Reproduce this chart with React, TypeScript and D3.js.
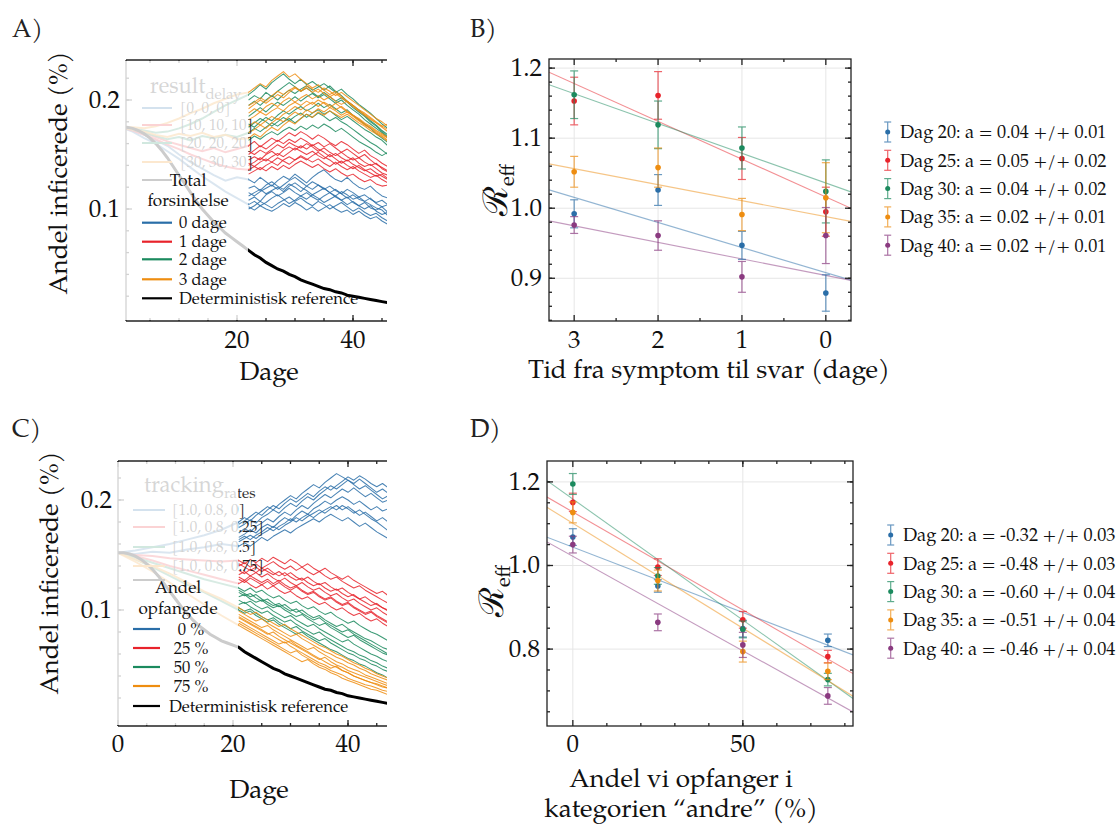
import React from "react";
import * as d3 from "d3";

const FONT = "'TeX Gyre Pagella', monospace";

// ---------------- Panel A data (values ×1000, unit %) ----------------
const A_START_DAY = 22; // first plotted day of the visible trajectories
const aBlue = [
  [127,124,129,125,121,126,130,127,132,128,124,129,133,136,131,127,125,129,124,120,118,121,116,112,110],
  [119,121,117,122,125,121,118,123,120,116,121,125,122,118,121,117,114,118,115,111,113,109,106,108,104],
  [112,115,118,114,117,120,116,121,124,120,117,113,116,119,115,118,114,110,113,109,107,110,105,102,104],
  [108,111,107,113,116,112,115,119,115,112,115,111,108,112,115,111,108,111,106,103,106,101,99,102,97],
  [104,107,103,106,110,113,109,105,108,112,109,113,110,106,109,112,108,104,107,103,100,103,98,95,97],
  [100,103,107,104,101,105,108,111,107,110,106,103,107,104,100,103,106,102,98,101,97,94,96,92,89],
  [115,112,116,119,122,118,122,126,129,125,121,118,122,119,115,112,116,113,109,111,107,104,101,99,94],
  [102,99,103,100,98,101,105,102,106,103,99,102,98,101,104,100,97,99,95,98,94,91,93,89,86],
];
const aRed = [
  [158,162,157,161,165,162,166,170,167,171,168,164,168,165,161,158,162,159,155,151,154,149,146,142,139],
  [150,154,158,155,159,163,160,164,161,165,162,158,161,157,160,156,152,155,151,147,150,145,141,138,135],
  [145,148,145,150,153,149,154,157,154,158,155,159,155,152,148,151,147,144,147,142,139,141,137,133,131],
  [140,143,147,144,148,151,148,152,156,153,150,153,149,146,150,146,142,145,141,138,135,137,133,130,127],
  [136,139,136,140,143,140,145,148,145,149,146,143,146,142,139,143,139,136,139,135,132,129,131,127,124],
  [132,135,138,135,139,136,140,137,141,144,141,138,141,137,134,137,133,130,132,128,125,127,123,121,122],
  [153,150,154,151,155,159,156,161,158,156,160,157,153,156,152,149,152,148,145,147,143,140,142,137,134],
  [142,139,143,146,143,147,144,141,145,148,145,149,152,148,145,141,144,140,137,140,136,133,130,132,128],
];
const aGreen = [
  [205,209,214,210,216,220,224,219,215,219,214,217,213,209,213,208,204,199,195,191,186,181,177,172,168],
  [195,199,195,200,204,200,205,209,206,210,213,209,212,215,211,207,210,205,201,196,192,188,183,178,174],
  [185,189,193,189,194,198,195,199,203,199,203,206,202,205,201,197,200,195,191,187,182,178,174,170,165],
  [178,175,180,184,181,186,190,187,191,194,190,193,197,193,196,192,188,191,186,182,178,174,169,165,161],
  [170,174,171,175,179,176,180,183,179,183,187,184,188,185,181,184,180,177,173,169,165,161,158,154,150],
  [163,167,164,168,171,168,172,175,172,176,173,177,174,178,175,171,174,170,166,162,159,156,152,149,152],
  [200,204,201,207,203,208,212,216,212,208,211,207,203,207,203,199,202,198,193,189,185,180,176,171,166],
  [175,179,183,180,176,180,184,181,185,188,184,188,191,187,190,186,182,185,181,177,173,170,166,163,158],
];
const aOrange = [
  [207,211,215,212,218,222,226,221,224,219,215,211,214,209,205,208,203,199,195,191,188,184,180,176,173],
  [195,198,202,199,204,208,205,209,212,208,211,207,210,206,203,206,202,198,194,190,187,183,179,176,178],
  [188,192,189,194,197,194,199,202,198,202,205,201,204,200,203,199,196,199,195,190,186,182,179,175,171],
  [182,185,189,186,190,193,190,195,198,195,199,196,200,197,193,197,193,189,186,182,178,175,171,168,165],
  [176,180,177,181,185,182,187,190,194,191,195,198,194,198,195,191,194,190,186,183,179,176,172,169,166],
  [170,173,177,174,179,183,180,185,189,186,191,188,192,189,193,190,186,189,185,181,177,174,170,167,163],
  [165,169,166,171,175,172,177,181,178,183,187,184,189,186,190,187,184,187,183,179,176,172,169,166,162],
  [192,196,200,197,201,205,202,207,211,208,213,210,207,211,208,204,207,203,199,195,191,187,183,180,176],
];
// early (faded) part, every 2 days from day 0 to day 22
const A_GHOST_STEP = 2;
const aGhost = [
  [175,172,168,163,158,150,143,137,131,126,129,127],
  [175,171,165,160,153,146,138,130,123,116,110,104],
  [175,173,170,166,162,159,156,153,156,152,155,158],
  [175,172,168,164,159,155,150,146,142,139,137,136],
  [175,174,172,170,171,174,178,183,189,195,200,205],
  [175,173,170,167,164,166,163,167,165,168,166,170],
  [175,175,174,176,179,183,188,192,197,201,205,207],
  [175,173,171,168,166,169,167,170,166,168,164,165],
];
const aDeterministic = [175,175,174,172,169,165,160,154,147,139,131,123,115,107,100,94,88,83,78,74,70,66,
  62,58,55,51,48,45,43,40,38,35,33,31,29,27,26,24,23,21,20,19,18,17,16,15,14];
const aGhostLegend = ["[0, 0, 0]", "[10, 10, 10]", "[20, 20, 20]", "[30, 30, 30]"];
const aLegendTitle = ["Total", "forsinkelse"];
const aLegendLabels = ["0 dage", "1 dage", "2 dage", "3 dage", "Deterministisk reference"];

// ---------------- Panel C data (values ×1000, unit %) ----------------
const C_START_DAY = 21;
const cBlue = [
  [180,184,181,186,190,194,191,196,200,204,201,206,210,214,211,216,220,224,221,218,215,219,215,211,207,210,206],
  [175,178,182,179,184,187,191,188,193,197,194,199,203,200,205,209,213,210,214,218,214,210,213,209,205,201,204],
  [170,174,171,176,179,183,180,185,189,186,191,195,192,197,201,205,202,206,210,207,211,207,203,206,202,198,200],
  [166,169,173,170,175,178,175,180,184,181,186,190,187,192,195,199,196,200,203,200,196,199,195,191,194,190,192],
  [162,165,168,165,169,172,176,173,177,180,184,181,185,188,191,188,192,195,191,194,190,186,189,185,181,184,180],
  [158,161,158,162,166,163,167,170,173,170,174,177,180,183,180,184,187,184,181,184,180,176,179,175,171,168,165],
  [178,181,185,189,186,191,195,192,197,201,198,202,206,203,208,212,209,213,217,221,218,222,219,215,212,215,211],
  [164,167,164,168,171,175,172,176,179,183,180,184,187,184,188,191,194,191,195,192,188,191,187,183,180,176,172],
];
const cRed = [
  [145,142,146,143,147,144,148,145,142,146,143,139,142,138,135,138,134,131,128,131,127,124,121,118,115,117,113],
  [140,143,139,142,138,141,144,140,137,140,136,139,135,132,135,131,128,130,126,123,120,122,118,115,112,109,106],
  [136,133,137,134,138,135,132,135,131,134,130,127,130,126,123,125,121,118,120,116,113,110,112,108,105,102,100],
  [132,135,131,134,130,133,129,126,129,125,122,125,121,118,120,116,113,115,111,108,110,106,103,100,102,98,95],
  [128,125,129,126,123,126,122,125,121,118,121,117,114,116,112,109,111,107,104,106,102,99,96,98,94,91,88],
  [124,127,123,120,123,119,122,118,115,117,113,110,112,108,105,107,103,100,102,98,95,97,93,90,92,88,85],
  [142,139,136,139,135,138,134,131,134,130,127,129,125,122,124,120,117,119,115,112,114,110,107,104,106,102,99],
  [130,127,131,128,125,128,124,127,123,120,122,118,115,117,113,110,112,108,105,107,103,100,97,99,95,92,89],
];
const cGreen = [
  [120,117,120,116,118,114,111,113,109,106,108,104,101,103,99,96,98,94,91,88,90,86,83,80,78,75,72],
  [116,113,115,111,108,110,106,103,105,101,98,100,96,93,95,91,88,85,87,83,80,77,74,72,69,66,64],
  [112,114,110,107,109,105,102,104,100,97,94,96,92,89,86,88,84,81,78,75,77,73,70,67,64,61,59],
  [109,106,108,104,101,103,99,96,93,95,91,88,85,87,83,80,77,74,71,73,69,66,63,60,58,55,53],
  [105,107,103,100,97,99,95,92,89,91,87,84,81,78,80,76,73,70,67,64,62,59,57,54,52,49,47],
  [102,99,101,97,94,91,93,89,86,83,85,81,78,75,72,74,70,67,64,61,59,56,54,51,49,46,44],
  [118,115,112,114,110,107,104,106,102,99,101,97,94,91,93,89,86,83,80,82,78,75,72,69,66,63,60],
  [100,97,99,95,92,89,91,87,84,81,78,80,76,73,70,67,64,62,59,56,54,51,49,46,43,41,38],
];
const cOrange = [
  [102,99,96,98,94,91,88,85,87,83,80,77,74,71,68,66,63,60,58,55,52,50,47,45,42,40,38],
  [99,96,93,90,92,88,85,82,79,76,78,74,71,68,65,62,60,57,55,52,50,47,45,42,40,38,36],
  [96,93,90,87,84,86,82,79,76,73,70,67,64,66,62,59,56,53,51,48,46,44,41,39,37,35,33],
  [93,90,87,84,81,78,80,76,73,70,67,64,61,58,55,57,53,50,48,45,43,41,39,37,35,33,31],
  [90,87,84,81,78,75,72,69,71,67,64,61,58,55,52,50,47,49,45,43,40,38,36,34,32,30,29],
  [88,85,82,79,76,73,70,67,64,61,63,59,56,53,50,48,45,43,41,38,36,34,32,31,29,27,26],
  [86,83,80,77,74,71,68,65,62,59,56,53,55,51,48,46,43,41,38,36,34,32,30,28,27,25,23],
  [94,91,88,85,82,79,76,73,70,72,68,65,62,59,56,53,50,48,45,43,40,38,36,34,33,31,29],
];
const C_GHOST_STEP = 3;
const cGhost = [
  [152,154,157,160,164,168,173,180],
  [152,151,153,152,155,157,160,158],
  [152,150,149,147,146,145,144,145],
  [152,149,145,140,136,132,128,124],
  [152,148,143,138,133,128,124,120],
  [152,146,139,131,123,116,108,100],
  [152,146,140,133,125,117,110,102],
  [152,144,135,125,115,105,95,86],
];
const cDeterministic = [152,152,151,149,146,142,137,131,124,117,110,103,97,91,86,82,78,75,72,70,68,
  66,62,59,56,53,50,47,45,42,40,38,36,34,32,30,28,27,25,24,22,21,20,19,18,17,16,15];
const cGhostLegend = ["[1.0, 0.8, 0]", "[1.0, 0.8, 0.25]", "[1.0, 0.8, 0.5]", "[1.0, 0.8, 0.75]"];
const cLegendTitle = ["Andel", "opfangede"];
const cLegendLabels = ["0 %", "25 %", "50 %", "75 %", "Deterministisk reference"];

// ---------------- Panel B data ----------------
const bDelays = [3, 2, 1, 0];
const dagLabels = ["Dag 20", "Dag 25", "Dag 30", "Dag 35", "Dag 40"];
const bReff = [
  [0.992, 1.026, 0.947, 0.879],
  [1.153, 1.161, 1.071, 0.995],
  [1.162, 1.119, 1.086, 1.024],
  [1.052, 1.058, 0.991, 1.015],
  [0.976, 0.961, 0.902, 0.961],
];
const bErr = [
  [0.020, 0.022, 0.020, 0.026],
  [0.034, 0.034, 0.030, 0.035],
  [0.034, 0.034, 0.030, 0.045],
  [0.022, 0.028, 0.023, 0.050],
  [0.012, 0.021, 0.022, 0.040],
];
const bFitSlope = [0.0358, 0.054, 0.0425, 0.0228, 0.0236];
const bFitIntercept = [0.908, 1.016, 1.036, 0.988, 0.904];
const bSlopeText = ["0.04", "0.05", "0.04", "0.02", "0.02"];
const bErrText = ["0.01", "0.02", "0.02", "0.01", "0.01"];

// ---------------- Panel D data ----------------
const dShares = [0, 25, 50, 75];
const dReff = [
  [1.068, 0.951, 0.849, 0.821],
  [1.151, 0.996, 0.870, 0.782],
  [1.195, 0.975, 0.847, 0.727],
  [1.127, 0.964, 0.794, 0.747],
  [1.050, 0.864, 0.810, 0.688],
];
const dErr = [
  [0.020, 0.015, 0.020, 0.015],
  [0.022, 0.020, 0.020, 0.015],
  [0.025, 0.020, 0.020, 0.015],
  [0.025, 0.025, 0.025, 0.020],
  [0.020, 0.020, 0.030, 0.020],
];
const dFitSlope = [-0.313, -0.469, -0.579, -0.502, -0.452]; // per fraction (x/100)
const dFitIntercept = [1.044, 1.128, 1.159, 1.101, 1.022];
const dSlopeText = ["-0.32", "-0.48", "-0.60", "-0.51", "-0.46"];
const dErrText = ["0.03", "0.03", "0.04", "0.04", "0.04"];

// ---------------- styles ----------------
const TRAJ_COLORS = ["#2a6ea8", "#e8232b", "#1b8a5e", "#ee8d10"];
const DAG_COLORS = ["#2a6ea8", "#e8232b", "#1b8a5e", "#ee8d10", "#8a3a80"];

type Box = { l: number; t: number; b: number; r: number };

type TrajCfg = {
  id: string;
  x: d3.ScaleLinear<number, number>;
  y: d3.ScaleLinear<number, number>;
  box: Box;
  fadeRight: number;
  start: number;
  groups: number[][][];
  ghost: number[][];
  ghostStep: number;
  det: number[];
  xMajor: number[];
  xMinor: number[];
  yMajor: number[];
  yMinor: number[];
  xTickBase: number;
  yTickRight: number;
  xLabel: { x: number; y: number };
  yLabel: { x: number; y: number };
  ghostTitle: [string, string];
  ghostTitlePos: { x: number; y: number };
  ghostLabels: string[];
  ghostRows: number[];
  ghostLineX: [number, number];
  ghostTextX: number;
  title: string[];
  titleX: number;
  titleBase: number[];
  labels: string[];
  rows: number[];
  lineX: [number, number];
  textX: number[];
  textAnchor: string[];
  letter: { text: string; x: number; y: number };
};

const T = (p: any) => <text {...p} style={{ fontFamily: FONT }} />;

function TrajPanel({ c }: { c: TrajCfg }) {
  const { x, y, box } = c;
  const line = (start: number, step: number) =>
    d3.line<number>().x((_, i) => x(start + i * step)).y((v) => y(v / 1000));
  const clip = `clip-${c.id}`;
  const fmtY = (v: number) => v.toFixed(1);
  const inX = (v: number) => x(v) >= box.l - 0.5 && x(v) <= box.r;
  return (
    <g>
      <defs>
        <clipPath id={clip}>
          <rect x={box.l} y={box.t} width={box.r - box.l} height={box.b - box.t} />
        </clipPath>
      </defs>
      <T x={c.letter.x} y={c.letter.y} fontSize={25} fill="#222">{c.letter.text}</T>
      <g clipPath={`url(#${clip})`}>
        {c.ghost.map((g, i) => (
          <path key={"g" + i} d={line(0, c.ghostStep)(g) || ""} fill="none"
            stroke={TRAJ_COLORS[Math.floor(i / 2)]} strokeWidth={2} opacity={0.85} />
        ))}
        {c.groups.map((grp, gi) =>
          grp.map((tr, ti) => (
            <path key={`t${gi}-${ti}`} d={line(c.start, 1)(tr) || ""} fill="none"
              stroke={TRAJ_COLORS[gi]} strokeWidth={1.05} opacity={0.85} strokeLinejoin="round" />
          ))
        )}
        <path d={line(0, 1)(c.det) || ""} fill="none" stroke="#000" strokeWidth={3} />
      </g>
      {/* original (faded) legend */}
      <T x={c.ghostTitlePos.x} y={c.ghostTitlePos.y} fontSize={22} fill="#333">
        {c.ghostTitle[0]}
        <tspan fontSize={15} dy={6}>{c.ghostTitle[1]}</tspan>
      </T>
      {c.ghostRows.map((ry, i) => (
        <line key={"gl" + i} x1={c.ghostLineX[0]} x2={c.ghostLineX[1]} y1={ry} y2={ry}
          stroke={i < 4 ? TRAJ_COLORS[i] : "#000"} strokeWidth={2} />
      ))}
      {c.ghostLabels.map((t, i) => (
        <T key={"gt" + i} x={c.ghostTextX} y={c.ghostRows[i] + 5} fontSize={15} fill="#222">{t}</T>
      ))}
      {/* axes */}
      <g stroke="#222" strokeWidth={1.3} fill="none">
        <line x1={box.l} x2={box.r} y1={box.t} y2={box.t} />
        <line x1={box.l} x2={box.r} y1={box.b} y2={box.b} />
        <line x1={box.l} x2={box.l} y1={box.t} y2={box.b} />
        {c.xMajor.filter(inX).map((v) => (
          <g key={"xm" + v}>
            <line x1={x(v)} x2={x(v)} y1={box.b} y2={box.b - 6} />
            <line x1={x(v)} x2={x(v)} y1={box.t} y2={box.t + 6} />
          </g>
        ))}
        {c.xMinor.filter((v) => x(v) > box.l && x(v) <= box.r).map((v) => (
          <g key={"xn" + v}>
            <line x1={x(v)} x2={x(v)} y1={box.b} y2={box.b - 3} />
            <line x1={x(v)} x2={x(v)} y1={box.t} y2={box.t + 3} />
          </g>
        ))}
        {c.yMajor.map((v) => (
          <line key={"ym" + v} x1={box.l} x2={box.l + 6} y1={y(v)} y2={y(v)} />
        ))}
        {c.yMinor.filter((v) => y(v) > box.t && y(v) < box.b).map((v) => (
          <line key={"yn" + v} x1={box.l} x2={box.l + 3} y1={y(v)} y2={y(v)} />
        ))}
      </g>
      {/* white veil over the early part */}
      <rect x={box.l - 1.5} y={box.t + 1} width={c.fadeRight - box.l + 1.5} height={box.b - box.t - 2}
        fill="#fff" opacity={0.8} />
      {/* tick labels */}
      {c.xMajor.filter(inX).map((v) => (
        <T key={"xl" + v} x={x(v)} y={c.xTickBase} fontSize={25} textAnchor="middle" fill="#111">{v}</T>
      ))}
      {c.yMajor.map((v) => (
        <T key={"yl" + v} x={c.yTickRight} y={y(v) + 8} fontSize={25} textAnchor="end" fill="#111">{fmtY(v)}</T>
      ))}
      <T x={c.xLabel.x} y={c.xLabel.y} fontSize={26} textAnchor="middle" fill="#111">Dage</T>
      <T transform={`translate(${c.yLabel.x},${c.yLabel.y}) rotate(-90)`} fontSize={26}
        textAnchor="middle" fill="#111">Andel inficerede (%)</T>
      {/* new legend */}
      {c.title.map((t, i) => (
        <T key={"tt" + i} x={c.titleX} y={c.titleBase[i]} fontSize={17} textAnchor="middle" fill="#111">{t}</T>
      ))}
      {c.labels.map((t, i) => (
        <g key={"lg" + i}>
          <line x1={c.lineX[0]} x2={c.lineX[1]} y1={c.rows[i]} y2={c.rows[i]}
            stroke={i < 4 ? TRAJ_COLORS[i] : "#000"} strokeWidth={2.2} />
          <T x={c.textX[i]} y={c.rows[i] + 5.5} fontSize={16.6} textAnchor={c.textAnchor[i]} fill="#111">{t}</T>
        </g>
      ))}
    </g>
  );
}

type FitCfg = {
  id: string;
  x: d3.ScaleLinear<number, number>;
  y: d3.ScaleLinear<number, number>;
  box: Box;
  xs: number[];
  vals: number[][];
  errs: number[][];
  slope: number[];
  intercept: number[];
  xUnit: number;
  xMajor: number[];
  xMinor: number[];
  yMajor: number[];
  yMinor: number[];
  xTickBase: number;
  yTickRight: number;
  xLabelLines: string[];
  xLabelX: number;
  xLabelBase: number[];
  yLabel: { x: number; y: number };
  legendText: string[];
  legendRows: number[];
  legendMarkX: number;
  legendTextX: number;
  letter: { text: string; x: number; y: number };
};

function FitPanel({ c }: { c: FitCfg }) {
  const { x, y, box } = c;
  const clip = `clip-${c.id}`;
  const [d0, d1] = x.domain();
  return (
    <g>
      <defs>
        <clipPath id={clip}>
          <rect x={box.l} y={box.t} width={box.r - box.l} height={box.b - box.t} />
        </clipPath>
      </defs>
      <T x={c.letter.x} y={c.letter.y} fontSize={25} fill="#222">{c.letter.text}</T>
      <g stroke="#e6e6e6" strokeWidth={1}>
        {c.xMajor.map((v) => <line key={"gx" + v} x1={x(v)} x2={x(v)} y1={box.t} y2={box.b} />)}
        {c.yMajor.map((v) => <line key={"gy" + v} x1={box.l} x2={box.r} y1={y(v)} y2={y(v)} />)}
      </g>
      <g clipPath={`url(#${clip})`}>
        {c.slope.map((a, i) => (
          <line key={"f" + i} x1={x(d0)} x2={x(d1)}
            y1={y(c.intercept[i] + (a * d0) / c.xUnit)} y2={y(c.intercept[i] + (a * d1) / c.xUnit)}
            stroke={DAG_COLORS[i]} strokeWidth={1.1} opacity={0.5} />
        ))}
        {c.vals.map((ser, i) =>
          ser.map((v, j) => {
            const px = x(c.xs[j]);
            const e = c.errs[i][j];
            return (
              <g key={`e${i}-${j}`}>
                <g stroke={DAG_COLORS[i]} strokeWidth={1.2} opacity={0.7}>
                  <line x1={px} x2={px} y1={y(v - e)} y2={y(v + e)} />
                  <line x1={px - 4} x2={px + 4} y1={y(v - e)} y2={y(v - e)} />
                  <line x1={px - 4} x2={px + 4} y1={y(v + e)} y2={y(v + e)} />
                </g>
                <circle cx={px} cy={y(v)} r={2.8} fill={DAG_COLORS[i]} />
              </g>
            );
          })
        )}
      </g>
      <g stroke="#222" strokeWidth={1.3} fill="none">
        <rect x={box.l} y={box.t} width={box.r - box.l} height={box.b - box.t} />
        {c.xMajor.map((v) => (
          <g key={"xm" + v}>
            <line x1={x(v)} x2={x(v)} y1={box.b} y2={box.b - 6} />
            <line x1={x(v)} x2={x(v)} y1={box.t} y2={box.t + 6} />
          </g>
        ))}
        {c.xMinor.filter((v) => x(v) > box.l && x(v) < box.r).map((v) => (
          <g key={"xn" + v}>
            <line x1={x(v)} x2={x(v)} y1={box.b} y2={box.b - 3} />
            <line x1={x(v)} x2={x(v)} y1={box.t} y2={box.t + 3} />
          </g>
        ))}
        {c.yMajor.map((v) => (
          <g key={"ym" + v}>
            <line x1={box.l} x2={box.l + 6} y1={y(v)} y2={y(v)} />
            <line x1={box.r} x2={box.r - 6} y1={y(v)} y2={y(v)} />
          </g>
        ))}
        {c.yMinor.filter((v) => y(v) > box.t && y(v) < box.b).map((v) => (
          <g key={"yn" + v}>
            <line x1={box.l} x2={box.l + 3} y1={y(v)} y2={y(v)} />
            <line x1={box.r} x2={box.r - 3} y1={y(v)} y2={y(v)} />
          </g>
        ))}
      </g>
      {c.xMajor.map((v) => (
        <T key={"xl" + v} x={x(v)} y={c.xTickBase} fontSize={25} textAnchor="middle" fill="#111">{v}</T>
      ))}
      {c.yMajor.map((v) => (
        <T key={"yl" + v} x={c.yTickRight} y={y(v) + 8} fontSize={25} textAnchor="end" fill="#111">{v.toFixed(1)}</T>
      ))}
      {c.xLabelLines.map((t, i) => (
        <T key={"xt" + i} x={c.xLabelX} y={c.xLabelBase[i]} fontSize={26} textAnchor="middle" fill="#111">{t}</T>
      ))}
      <T transform={`translate(${c.yLabel.x},${c.yLabel.y}) rotate(-90)`} textAnchor="middle" fill="#111">
        <tspan fontSize={34}>ℛ</tspan>
        <tspan fontSize={20} dy={7}>eff</tspan>
      </T>
      {c.legendText.map((t, i) => {
        const ry = c.legendRows[i];
        const mx = c.legendMarkX;
        return (
          <g key={"lg" + i}>
            <g stroke={DAG_COLORS[i]} strokeWidth={1.2} opacity={0.7}>
              <line x1={mx} x2={mx} y1={ry - 10} y2={ry + 10} />
              <line x1={mx - 3.5} x2={mx + 3.5} y1={ry - 10} y2={ry - 10} />
              <line x1={mx - 3.5} x2={mx + 3.5} y1={ry + 10} y2={ry + 10} />
            </g>
            <circle cx={mx} cy={ry} r={2.5} fill={DAG_COLORS[i]} />
            <T x={c.legendTextX} y={ry + 6.3} fontSize={18.2} fill="#111">{t}</T>
          </g>
        );
      })}
    </g>
  );
}

const cfgA: TrajCfg = {
  id: "A",
  x: d3.scaleLinear().domain([0, 40]).range([121, 353]),
  y: d3.scaleLinear().domain([0.1, 0.2]).range([209, 100]),
  box: { l: 126, t: 60, b: 321, r: 387 },
  fadeRight: 248,
  start: A_START_DAY,
  groups: [aBlue, aRed, aGreen, aOrange],
  ghost: aGhost,
  ghostStep: A_GHOST_STEP,
  det: aDeterministic,
  xMajor: [0, 20, 40],
  xMinor: d3.range(5, 50, 5),
  yMajor: [0.1, 0.2],
  yMinor: d3.range(0.02, 0.24, 0.02),
  xTickBase: 348,
  yTickRight: 120,
  xLabel: { x: 269, y: 380 },
  yLabel: { x: 67, y: 173 },
  ghostTitle: ["result", "delay"],
  ghostTitlePos: { x: 150, y: 93 },
  ghostLabels: aGhostLegend,
  ghostRows: [108, 125, 143, 162, 180],
  ghostLineX: [142, 172],
  ghostTextX: 180,
  title: aLegendTitle,
  titleX: 188,
  titleBase: [186, 206],
  labels: aLegendLabels,
  rows: [222.7, 241.7, 259.3, 279.3, 298.3],
  lineX: [142, 172],
  textX: [179, 179, 179, 179, 179],
  textAnchor: ["start", "start", "start", "start", "start"],
  letter: { text: "A)", x: 12, y: 37 },
};

const cfgC: TrajCfg = {
  id: "C",
  x: d3.scaleLinear().domain([0, 40]).range([118, 348]),
  y: d3.scaleLinear().domain([0.1, 0.2]).range([610, 500]),
  box: { l: 118, t: 461, b: 726, r: 387 },
  fadeRight: 238,
  start: C_START_DAY,
  groups: [cBlue, cRed, cGreen, cOrange],
  ghost: cGhost,
  ghostStep: C_GHOST_STEP,
  det: cDeterministic,
  xMajor: [0, 20, 40],
  xMinor: d3.range(5, 50, 5),
  yMajor: [0.1, 0.2],
  yMinor: d3.range(0.02, 0.24, 0.02),
  xTickBase: 752,
  yTickRight: 112,
  xLabel: { x: 259, y: 798 },
  yLabel: { x: 58, y: 573 },
  ghostTitle: ["tracking", "rates"],
  ghostTitlePos: { x: 144, y: 492 },
  ghostLabels: cGhostLegend,
  ghostRows: [510, 527, 547, 566, 580],
  ghostLineX: [133, 165],
  ghostTextX: 172,
  title: cLegendTitle,
  titleX: 178,
  titleBase: [593, 614],
  labels: cLegendLabels,
  rows: [629, 648, 667, 686, 706],
  lineX: [133, 160],
  textX: [191, 191, 191, 191, 169],
  textAnchor: ["middle", "middle", "middle", "middle", "start"],
  letter: { text: "C)", x: 12, y: 437 },
};

const cfgB: FitCfg = {
  id: "B",
  x: d3.scaleLinear().domain([3.3, -0.3]).range([549, 851]),
  y: d3.scaleLinear().domain([0.839, 1.213]).range([321, 59]),
  box: { l: 549, t: 59, b: 321, r: 851 },
  xs: bDelays,
  vals: bReff,
  errs: bErr,
  slope: bFitSlope,
  intercept: bFitIntercept,
  xUnit: 1,
  xMajor: [3, 2, 1, 0],
  xMinor: [2.5, 1.5, 0.5],
  yMajor: [0.9, 1.0, 1.1, 1.2],
  yMinor: d3.range(0.84, 1.22, 0.02),
  xTickBase: 348,
  yTickRight: 542,
  xLabelLines: ["Tid fra symptom til svar (dage)"],
  xLabelX: 709,
  xLabelBase: [378],
  yLabel: { x: 507, y: 190 },
  legendText: dagLabels.map((d, i) => `${d}: a = ${bSlopeText[i]} +/+ ${bErrText[i]}`),
  legendRows: [132, 160.3, 188.6, 216.9, 245.2],
  legendMarkX: 887.7,
  legendTextX: 900,
  letter: { text: "B)", x: 470, y: 37 },
};

const cfgD: FitCfg = {
  id: "D",
  x: d3.scaleLinear().domain([-7.6, 82.4]).range([547, 853]),
  y: d3.scaleLinear().domain([0.616, 1.25]).range([726, 461]),
  box: { l: 547, t: 461, b: 726, r: 853 },
  xs: dShares,
  vals: dReff,
  errs: dErr,
  slope: dFitSlope,
  intercept: dFitIntercept,
  xUnit: 100,
  xMajor: [0, 50],
  xMinor: d3.range(10, 90, 10),
  yMajor: [0.8, 1.0, 1.2],
  yMinor: d3.range(0.65, 1.26, 0.05),
  xTickBase: 752,
  yTickRight: 540,
  xLabelLines: ["Andel vi opfanger i", "kategorien \u201candre\u201d (%)"],
  xLabelX: 681,
  xLabelBase: [787, 817],
  yLabel: { x: 503, y: 591 },
  legendText: dagLabels.map((d, i) => `${d}: a = ${dSlopeText[i]} +/+ ${dErrText[i]}`),
  legendRows: [535, 563.3, 591.6, 619.9, 648.2],
  legendMarkX: 890.7,
  legendTextX: 903,
  letter: { text: "D)", x: 470, y: 437 },
};

export default function App() {
  return (
    <svg width={1120} height={825}
      style={{ position: "absolute", left: 0, top: 0, display: "block", background: "#fff" }}>
      <rect width={1120} height={825} fill="#fff" />
      <TrajPanel c={cfgA} />
      <FitPanel c={cfgB} />
      <TrajPanel c={cfgC} />
      <FitPanel c={cfgD} />
    </svg>
  );
}
